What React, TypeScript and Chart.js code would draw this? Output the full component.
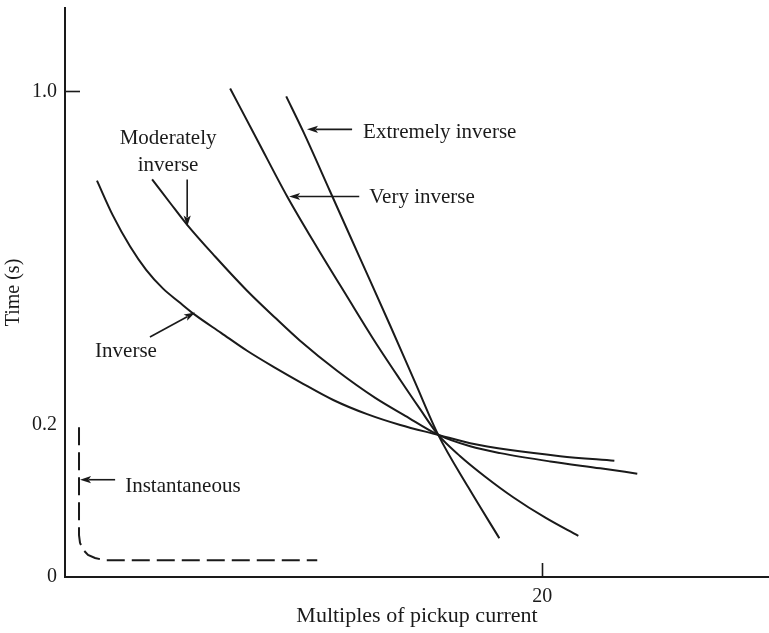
import React, { useEffect, useRef } from 'react';
import { Chart, LinearScale, registerables } from 'chart.js';

// ---------- data ----------
const X_MIN = 0;
const X_MAX = 29.5;
const Y_MIN = 0;
const Y_MAX = 1.2;
const Y_BREAK = 0.2; // axis is broken: 0..0.2 expanded
const X_TICKS = [20];
const X_TICK_LABELS = ['20'];
const Y_TICKS = [0, 0.2, 1.0];
const Y_TICK_LABELS = ['0', '0.2', '1.0'];

const INVERSE_X = [1.34, 2.01, 2.73, 3.40, 4.11, 4.78, 5.45, 6.54, 7.63, 8.81, 9.85, 11.24, 12.66, 14.05, 15.64, 16.98, 18.66, 20.75, 23.02];
const INVERSE_Y = [0.786, 0.702, 0.628, 0.572, 0.527, 0.495, 0.464, 0.421, 0.378, 0.337, 0.303, 0.260, 0.226, 0.200, 0.187, 0.176, 0.167, 0.159, 0.153];

const MODERATE_X = [3.65, 4.40, 5.12, 6.29, 7.63, 8.81, 9.85, 11.40, 13.00, 14.26, 15.64, 16.98, 18.24, 20.34, 22.43, 23.98];
const MODERATE_Y = [0.789, 0.733, 0.680, 0.604, 0.522, 0.457, 0.402, 0.330, 0.265, 0.222, 0.187, 0.172, 0.163, 0.152, 0.143, 0.136];

const VERY_X = [6.92, 8.09, 9.31, 10.57, 11.82, 12.91, 14.05, 14.88, 15.64, 16.56, 17.61, 18.78, 20.13, 21.51];
const VERY_Y = [1.007, 0.880, 0.748, 0.625, 0.508, 0.407, 0.308, 0.238, 0.187, 0.159, 0.132, 0.105, 0.078, 0.054];

const EXTREME_X = [9.27, 9.98, 11.11, 12.37, 13.63, 14.68, 15.64, 16.90, 18.20];
const EXTREME_Y = [0.988, 0.904, 0.760, 0.599, 0.438, 0.301, 0.187, 0.118, 0.051];

const INSTANT_X = [0.587, 0.587, 0.629, 0.755, 0.964, 1.258, 1.677, 10.57];
const INSTANT_Y = [0.197, 0.055, 0.045, 0.036, 0.029, 0.025, 0.022, 0.022];

// annotations (data coordinates)
const LABELS = [
  { text: 'Extremely inverse', x: 12.49, y: 0.889, align: 'left' },
  { text: 'Very inverse', x: 12.75, y: 0.733, align: 'left' },
  { text: 'Moderately', x: 4.32, y: 0.873, align: 'center' },
  { text: 'inverse', x: 4.32, y: 0.810, align: 'center' },
  { text: 'Inverse', x: 1.26, y: 0.363, align: 'left' },
  { text: 'Instantaneous', x: 2.52, y: 0.112, align: 'left' },
];
const ARROWS = [
  { x1: 12.03, y1: 0.909, x2: 10.14, y2: 0.909 },
  { x1: 12.33, y1: 0.748, x2: 9.39, y2: 0.748 },
  { x1: 5.12, y1: 0.789, x2: 5.12, y2: 0.676 },
  { x1: 3.56, y1: 0.411, x2: 5.45, y2: 0.470 },
  { x1: 2.10, y1: 0.128, x2: 0.63, y2: 0.128 },
];

// ---------- broken y scale ----------
const BREAK_FRACTION = 152 / 569;

class BrokenLinearScale extends LinearScale {
  static id = 'brokenLinear';
  static defaults = LinearScale.defaults;
  getPixelForValue(value: number) {
    if (value === null || value === undefined || isNaN(value)) return NaN;
    const lo = this.min;
    const hi = this.max;
    let dec: number;
    if (value <= Y_BREAK) dec = ((value - lo) / (Y_BREAK - lo)) * BREAK_FRACTION;
    else dec = BREAK_FRACTION + ((value - Y_BREAK) / (hi - Y_BREAK)) * (1 - BREAK_FRACTION);
    return this.getPixelForDecimal(dec);
  }
  getValueForPixel(pixel: number) {
    const dec = this.getDecimalForPixel(pixel);
    const lo = this.min;
    const hi = this.max;
    if (dec <= BREAK_FRACTION) return lo + (dec / BREAK_FRACTION) * (Y_BREAK - lo);
    return Y_BREAK + ((dec - BREAK_FRACTION) / (1 - BREAK_FRACTION)) * (hi - Y_BREAK);
  }
}

Chart.register(...registerables, BrokenLinearScale);

const INK = '#1a1a1a';
const FONT_FAMILY = '"Liberation Serif", "DejaVu Serif", serif';

const zip = (xs: number[], ys: number[]) => xs.map((x, i) => ({ x, y: ys[i] }));

function drawArrow(ctx: CanvasRenderingContext2D, x1: number, y1: number, x2: number, y2: number) {
  const ang = Math.atan2(y2 - y1, x2 - x1);
  const headLen = 11;
  const headHalf = 3.6;
  const bx = x2 - headLen * Math.cos(ang);
  const by = y2 - headLen * Math.sin(ang);
  ctx.beginPath();
  ctx.moveTo(x1, y1);
  ctx.lineTo(bx + 2 * Math.cos(ang), by + 2 * Math.sin(ang));
  ctx.lineWidth = 1.6;
  ctx.strokeStyle = INK;
  ctx.stroke();
  ctx.beginPath();
  ctx.moveTo(x2, y2);
  ctx.lineTo(bx + headHalf * Math.sin(ang), by - headHalf * Math.cos(ang));
  ctx.lineTo(bx + 2.5 * Math.cos(ang), by + 2.5 * Math.sin(ang));
  ctx.lineTo(bx - headHalf * Math.sin(ang), by + headHalf * Math.cos(ang));
  ctx.closePath();
  ctx.fillStyle = INK;
  ctx.fill();
}

const annotationPlugin = {
  id: 'relayAnnotations',
  afterDatasetsDraw(chart: any) {
    const { ctx, scales } = chart;
    const xs = scales.x;
    const ys = scales.y;
    const area = chart.chartArea;
    ctx.save();
    ctx.strokeStyle = INK;
    ctx.lineWidth = 1.6;
    Y_TICKS.forEach((v) => {
      if (v !== 1.0) return;
      const py = Math.round(ys.getPixelForValue(v)) + 0.5;
      ctx.beginPath();
      ctx.moveTo(area.left, py);
      ctx.lineTo(area.left + 15, py);
      ctx.stroke();
    });
    X_TICKS.forEach((v) => {
      const px = Math.round(xs.getPixelForValue(v)) + 0.5;
      ctx.beginPath();
      ctx.moveTo(px, area.bottom);
      ctx.lineTo(px, area.bottom - 14);
      ctx.stroke();
    });
    ARROWS.forEach((a) =>
      drawArrow(ctx, xs.getPixelForValue(a.x1), ys.getPixelForValue(a.y1), xs.getPixelForValue(a.x2), ys.getPixelForValue(a.y2))
    );
    ctx.fillStyle = INK;
    ctx.font = `21px ${FONT_FAMILY}`;
    ctx.textBaseline = 'alphabetic';
    LABELS.forEach((l) => {
      ctx.textAlign = l.align as CanvasTextAlign;
      ctx.fillText(l.text, xs.getPixelForValue(l.x), ys.getPixelForValue(l.y));
    });
    ctx.restore();
  },
};

export default function App() {
  const canvasRef = useRef<HTMLCanvasElement | null>(null);

  useEffect(() => {
    if (!canvasRef.current) return;
    const curve = (label: string, xs: number[], ys: number[]) => ({
      label,
      data: zip(xs, ys),
      borderColor: INK,
      borderWidth: 2,
      pointRadius: 0,
      fill: false,
      cubicInterpolationMode: 'monotone' as const,
    });
    const chart = new Chart(canvasRef.current, {
      type: 'line',
      data: {
        datasets: [
          curve('Inverse', INVERSE_X, INVERSE_Y),
          curve('Moderately inverse', MODERATE_X, MODERATE_Y),
          curve('Very inverse', VERY_X, VERY_Y),
          curve('Extremely inverse', EXTREME_X, EXTREME_Y),
          {
            label: 'Instantaneous',
            data: zip(INSTANT_X, INSTANT_Y),
            borderColor: INK,
            borderWidth: 2,
            borderDash: [18, 7],
            pointRadius: 0,
            fill: false,
            tension: 0,
          },
        ],
      },
      options: {
        animation: false,
        responsive: true,
        maintainAspectRatio: false,
        layout: { padding: { top: 8, right: 0, bottom: 0, left: 0 } },
        plugins: {
          legend: { display: false },
          tooltip: { enabled: false },
        },
        scales: {
          x: {
            type: 'linear',
            min: X_MIN,
            max: X_MAX,
            grid: { display: false, drawTicks: false, tickLength: 0 },
            border: { display: true, color: INK, width: 2 },
            afterBuildTicks: (s: any) => {
              s.ticks = X_TICKS.map((v) => ({ value: v }));
            },
            afterFit: (s: any) => {
              s.height = 56;
              s.paddingLeft = 0;
              s.paddingRight = 0;
            },
            ticks: {
              color: INK,
              font: { family: FONT_FAMILY, size: 20 },
              padding: 8,
              maxRotation: 0,
              autoSkip: false,
              callback: (v: any) => {
                const i = X_TICKS.indexOf(Number(v));
                return i >= 0 ? X_TICK_LABELS[i] : '';
              },
            },
            title: {
              display: true,
              text: 'Multiples of pickup current',
              color: INK,
              font: { family: FONT_FAMILY, size: 22 },
              padding: { top: 0, bottom: 4 },
            },
          },
          y: {
            type: 'brokenLinear' as any,
            min: Y_MIN,
            max: Y_MAX,
            grid: { display: false, drawTicks: false, tickLength: 0 },
            border: { display: true, color: INK, width: 2 },
            afterBuildTicks: (s: any) => {
              s.ticks = Y_TICKS.map((v) => ({ value: v }));
            },
            afterFit: (s: any) => {
              s.width = 65;
              s.paddingTop = 0;
              s.paddingBottom = 0;
            },
            ticks: {
              color: INK,
              font: { family: FONT_FAMILY, size: 20 },
              padding: 8,
              autoSkip: false,
              callback: (v: any) => {
                const i = Y_TICKS.indexOf(Number(v));
                return i >= 0 ? Y_TICK_LABELS[i] : '';
              },
            },
            title: {
              display: true,
              text: 'Time (s)',
              color: INK,
              font: { family: FONT_FAMILY, size: 20 },
              padding: { top: 2, bottom: 0 },
            },
          },
        },
      },
      plugins: [annotationPlugin],
    } as any);
    return () => chart.destroy();
  }, []);

  return (
    <div style={{ position: 'absolute', left: 0, top: 0, width: 769, height: 633, background: '#fff' }}>
      <canvas ref={canvasRef} />
    </div>
  );
}
